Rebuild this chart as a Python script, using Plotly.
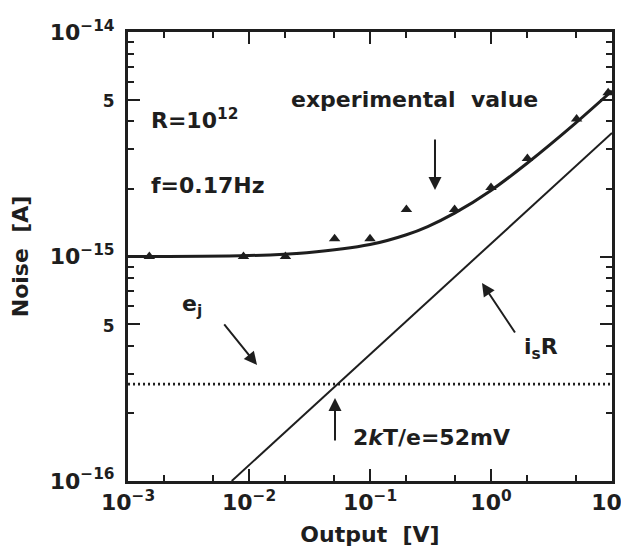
import plotly.graph_objects as go

# ---- data ----
exp_x = [0.0015, 0.009, 0.02, 0.051, 0.1, 0.2, 0.5, 1.0, 2.0, 5.1, 9.3]
exp_y = [1.0e-15, 1.0e-15, 1.0e-15, 1.2e-15, 1.2e-15, 1.62e-15, 1.62e-15,
         2.03e-15, 2.73e-15, 4.1e-15, 5.36e-15]

fit_x = [0.001, 0.01, 0.03, 0.1, 0.2, 0.3, 0.5, 1.0, 2.0, 5.0, 10.0]
fit_y = [1.0e-15, 1.01e-15, 1.04e-15, 1.13e-15, 1.25e-15, 1.36e-15, 1.56e-15,
         1.97e-15, 2.61e-15, 3.93e-15, 5.47e-15]

shot_x = [0.0072, 10.0]
shot_y = [1.0e-16, 3.55e-15]

ej_x = [0.001, 10.0]
ej_y = [2.7e-16, 2.7e-16]

x_tickvals = [1e-3, 1e-2, 1e-1, 1e0, 1e1]
x_ticktext = ["10<sup>−3</sup>", "10<sup>−2</sup>", "10<sup>−1</sup>",
              "10<sup>0</sup>", "10<sup>1</sup>"]
x_minor = [2e-3, 5e-3, 2e-2, 5e-2, 2e-1, 5e-1, 2, 5]

y_tickvals = [1e-16, 5e-16, 1e-15, 5e-15, 1e-14]
y_ticktext = ["10<sup>−16</sup>", "<span style='font-size:17px'>5</span>",
              "10<sup>−15</sup>", "<span style='font-size:17px'>5</span>",
              "10<sup>−14</sup>"]
y_minor = [m * 10.0 ** e for e in (-16, -15) for m in (2, 3, 4, 6, 7, 8, 9)]

INK = "#1e1e1e"
FONT = "DejaVu Sans, Liberation Sans, Arial, sans-serif"

fig = go.Figure()
fig.add_trace(go.Scatter(x=ej_x, y=ej_y, mode="lines",
                         line=dict(color=INK, width=2.6, dash="2px,3px"),
                         showlegend=False, hoverinfo="skip"))
fig.add_trace(go.Scatter(x=shot_x, y=shot_y, mode="lines",
                         line=dict(color=INK, width=2),
                         showlegend=False, hoverinfo="skip"))
fig.add_trace(go.Scatter(x=fit_x, y=fit_y, mode="lines",
                         line=dict(color=INK, width=3, shape="spline"),
                         showlegend=False, hoverinfo="skip"))
fig.add_trace(go.Scatter(x=exp_x, y=exp_y, mode="markers",
                         marker=dict(symbol="triangle-up", size=10, color=INK),
                         showlegend=False))

tf = dict(family=FONT, size=22, color=INK, weight="bold")

# page has an 8px body margin; plot area spans screen x 128..612, y 32..481
def px2x(px):
    return -3 + (px - 128) / 121.0

def py2y(py):
    return -14 - (py - 32) / 224.5

texts = [
    ("experimental  value", 414, 99, "center"),
    ("R=10<sup>12</sup>", 149, 119, "left"),
    ("f=0.17Hz", 149, 185, "left"),
    ("e<sub>j</sub>", 180, 306, "left"),
    ("i<sub>s</sub>R", 522, 349, "left"),
    ("2<i>k</i>T/e=52mV", 351, 438, "left"),
]
for t, px, py, anc in texts:
    fig.add_annotation(x=px2x(px), y=py2y(py), text=t, showarrow=False,
                       xanchor=anc, yanchor="middle", font=tf)

arrows = [  # head px, head py, ax, ay
    (435, 190, 0, -52),
    (257, 365, -34, -42),
    (482, 283, 34, 51),
    (335, 398, 0, 44),
]
for hx, hy, ax, ay in arrows:
    fig.add_annotation(x=px2x(hx), y=py2y(hy), ax=ax, ay=ay, text="",
                       showarrow=True, arrowhead=2, arrowsize=1.3,
                       arrowwidth=2, arrowcolor=INK)

axis_common = dict(type="log", showline=True, linewidth=3, linecolor=INK,
                   mirror="ticks", ticks="inside", ticklen=12, tickwidth=2,
                   tickcolor=INK, showgrid=False, zeroline=False,
                   ticklabeloverflow="allow", automargin=False,
                   tickfont=dict(family=FONT, size=22, color=INK, weight="bold"))

fig.update_xaxes(**axis_common, range=[-3.0002, 1.0002], tickvals=x_tickvals,
                 ticktext=x_ticktext, ticklabelstandoff=0,
                 minor=dict(tickvals=x_minor, ticks="inside", ticklen=6,
                            tickwidth=2, tickcolor=INK, showgrid=False),
                 title=dict(text="Output  [V]", standoff=13,
                            font=dict(family=FONT, size=22, color=INK, weight="bold")))
fig.update_yaxes(**axis_common, range=[-16.0002, -13.9998], tickvals=y_tickvals,
                 ticktext=y_ticktext, ticklabelstandoff=6,
                 minor=dict(tickvals=y_minor, ticks="inside", ticklen=6,
                            tickwidth=2, tickcolor=INK, showgrid=False),
                 title=dict(text="Noise  [A]", standoff=16,
                            font=dict(family=FONT, size=22, color=INK, weight="bold")))

fig.update_layout(width=621, height=544, autosize=False,
                  margin=dict(l=120, r=17, t=24, b=71),
                  paper_bgcolor="white", plot_bgcolor="white",
                  showlegend=False)

fig.write_html("out.html")
